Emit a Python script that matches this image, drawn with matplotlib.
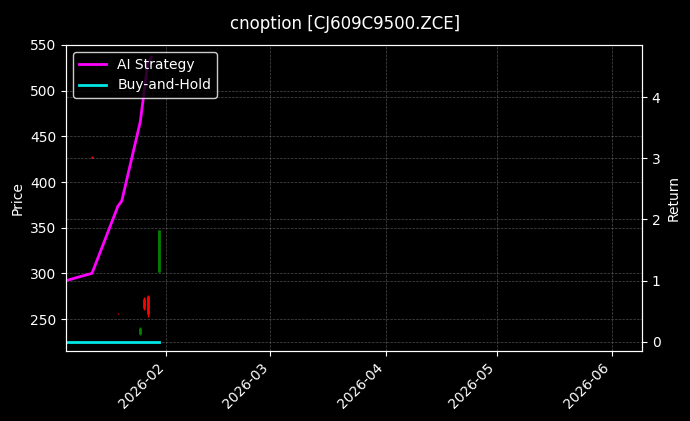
import matplotlib
matplotlib.use("Agg")
import matplotlib.pyplot as plt
import matplotlib.dates as mdates
import pandas as pd

candle_dates = ["2026-01-12", "2026-01-19", "2026-01-25", "2026-01-26", "2026-01-27", "2026-01-30"]
opens  = [427, 256, 234, 272, 275, 302]
highs  = [428, 257, 241, 274, 276, 348]
lows   = [426, 255, 233, 260, 252, 301]
closes = [426, 255, 240, 262, 255, 348]

ai_dates = ["2026-01-05", "2026-01-12", "2026-01-19", "2026-01-20", "2026-01-25", "2026-01-27", "2026-01-28"]
ai_ret = [1.00, 1.12, 2.22, 2.30, 3.60, 4.55, 4.65]
bh_dates = ["2026-01-05", "2026-01-30"]
bh_ret = [0.0, 0.0]

fig = plt.figure(figsize=(6.9, 4.21), dpi=100, facecolor="black")
ax = fig.add_axes([66/690, 1-351/421, 576/690, 306/421])
ax.set_facecolor("black")
for s in ax.spines.values():
    s.set_color("white")
cd = pd.to_datetime(candle_dates)
for d, o, h, l, c in zip(cd, opens, highs, lows, closes):
    col = "green" if c >= o else "red"
    ax.vlines(d, l, h, color=col, linewidth=1)
    ax.vlines(d, min(o, c), max(o, c), color=col, linewidth=2)
ax.set_ylim(215, 550)
ax.set_xlim(pd.Timestamp("2026-01-05"), pd.Timestamp("2026-06-09"))
ax.set_ylabel("Price", color="white")
ax.tick_params(colors="white")
ax.grid(True, color="gray", linestyle="--", linewidth=0.5, alpha=0.6)
ax.xaxis.set_major_locator(mdates.MonthLocator())
ax.xaxis.set_major_formatter(mdates.DateFormatter("%Y-%m"))
plt.setp(ax.get_xticklabels(), rotation=45, ha="right")

ax2 = ax.twinx()
ax2.plot(pd.to_datetime(ai_dates), ai_ret, color="#ff00ff", linewidth=2, label="AI Strategy")
ax2.plot(pd.to_datetime(bh_dates), bh_ret, color="#00e5e5", linewidth=2, label="Buy-and-Hold")
ax2.set_ylim(-0.15, 4.85)
ax2.set_ylabel("Return", color="white")
ax2.tick_params(colors="white")
ax2.grid(True, color="gray", linestyle="--", linewidth=0.5, alpha=0.6)
for s in ax2.spines.values():
    s.set_color("white")
leg = ax2.legend(loc="upper left", facecolor="black", edgecolor="white", labelcolor="white")
fig.suptitle("cnoption [CJ609C9500.ZCE]", color="white", fontsize=12, y=0.965)
fig.savefig("out.png", facecolor="black")
